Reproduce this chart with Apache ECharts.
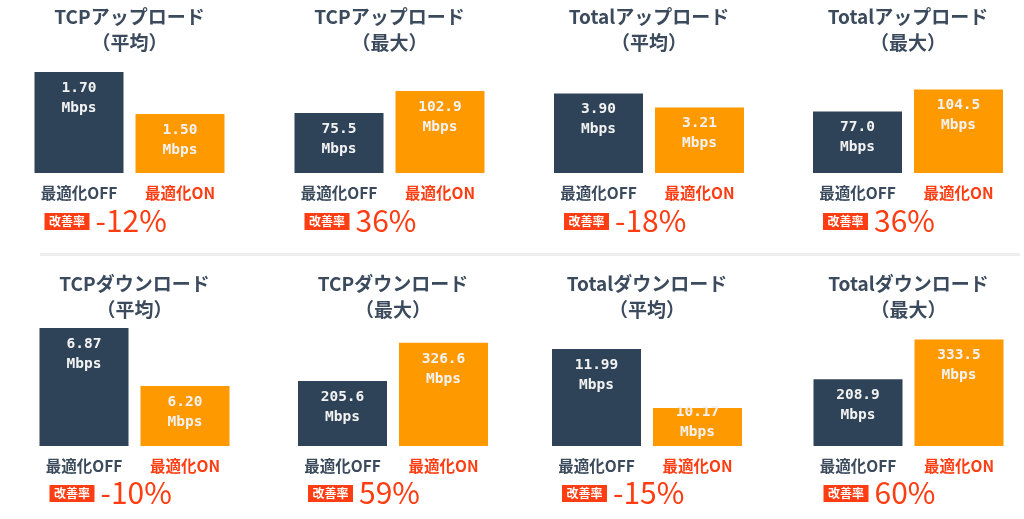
<!DOCTYPE html>
<html><head><meta charset="utf-8">
<script src="https://cdn.jsdelivr.net/npm/echarts@6/dist/echarts.min.js"></script>
<style>html,body{margin:0;padding:0;background:#fff}#c{width:1024px;height:519px}</style>
</head><body><div id="c"></div>
<script>
// ---- data ----
const titles = ['TCPアップロード','TCPアップロード','Totalアップロード','Totalアップロード','TCPダウンロード','TCPダウンロード','Totalダウンロード','Totalダウンロード'];
const subtitles = ['（平均）','（最大）','（平均）','（最大）','（平均）','（最大）','（平均）','（最大）'];
const categories = ['最適化OFF','最適化ON'];
const offValues = [1.70, 75.5, 3.90, 77.0, 6.87, 205.6, 11.99, 208.9];
const onValues  = [1.50, 102.9, 3.21, 104.5, 6.20, 326.6, 10.17, 333.5];
const decimals  = [2, 1, 2, 1, 2, 1, 2, 1];
const unit = 'Mbps';
const improvements = ['-12%','36%','-18%','36%','-10%','59%','-15%','60%'];
const improvementLabel = '改善率';
const axisMin = [1.219, 0, 0, 0, 5.507, 0, 9.0, 0];
const axisMax = [1.838, 163.3, 6.37, 162.5, 7.008, 411.4, 13.01, 407.5];

// ---- layout ----
const panelLeft = [28.5, 288.5, 548, 807, 33.5, 292, 546, 807.5];
const gridW = 202, gridH = 130;
const rowTop = [43, 316];
const rowShift = [0, 272];
const titleShift = [0, 267];

const C_OFF = '#2f4358', C_ON = '#ff9900', C_RED = '#ff3d12', C_TEXT = '#3b4a5c';
const JP = '"Noto Sans CJK JP","Noto Sans",sans-serif';
const NUMF = '"DejaVu Sans Mono","Liberation Mono",monospace';

const chart = echarts.init(document.getElementById('c'), null, {renderer:'canvas'});
const grid=[], xAxis=[], yAxis=[], series=[], graphic=[];

graphic.push({type:'rect', shape:{x:40, y:253, width:980, height:3}, style:{fill:'#eeeeee'}, silent:true});

for (let i=0;i<8;i++){
  const row = i<4?0:1;
  const left = panelLeft[i];
  const sh = rowShift[row];
  const th = titleShift[row];
  grid.push({left:left, top:rowTop[row], width:gridW, height:gridH, containLabel:false, outerBoundsMode:'none'});
  xAxis.push({type:'category', gridIndex:i, data:categories,
    axisLine:{show:false}, axisTick:{show:false}, splitLine:{show:false},
    axisLabel:{margin:12, fontSize:15.5, fontWeight:'bold', fontFamily:JP,
      color:(v,idx)=> idx===0 ? C_TEXT : C_RED}});
  yAxis.push({type:'value', gridIndex:i, min:axisMin[i], max:axisMax[i], show:false, splitLine:{show:false}});
  const mk = (v,color)=>{
    const hpx = (v-axisMin[i])/(axisMax[i]-axisMin[i])*gridH;
    return {value:v, itemStyle:{color:color},
      label: hpx < 45 ? {position:'insideBottom', distance:4} : {position:'insideTop', distance:6}};
  };
  series.push({type:'bar', xAxisIndex:i, yAxisIndex:i, barWidth:89, silent:true,
    data:[mk(offValues[i],C_OFF), mk(onValues[i],C_ON)],
    label:{show:true, color:'#f2f2f2', fontSize:14.5, fontWeight:'bold', fontFamily:NUMF, lineHeight:20,
      formatter:p=> p.value.toFixed(decimals[i]) + '\n' + unit}});
  const cx = left + gridW/2;
  graphic.push({type:'text', silent:true, style:{text:titles[i], x:cx, y:17+th, textAlign:'center', textVerticalAlign:'middle', fill:C_TEXT, font:'bold 19px '+JP}});
  graphic.push({type:'text', silent:true, style:{text:subtitles[i], x:cx, y:43+th, textAlign:'center', textVerticalAlign:'middle', fill:C_TEXT, font:'bold 19px '+JP}});
  const bx = left + 16, by = 213 + sh;
  graphic.push({type:'rect', silent:true, shape:{x:bx, y:by, width:45, height:17}, style:{fill:C_RED}});
  graphic.push({type:'text', silent:true, style:{text:improvementLabel, x:bx+22.5, y:by+8.5, textAlign:'center', textVerticalAlign:'middle', fill:'#ffffff', font:'bold 12px '+JP}});
  graphic.push({type:'text', silent:true, style:{text:improvements[i], x:bx+51, y:by+8, textAlign:'left', textVerticalAlign:'middle', fill:C_RED, font:'30px '+JP}});
}

chart.setOption({animation:false, backgroundColor:'#ffffff', grid, xAxis, yAxis, series, graphic});
</script></body></html>
